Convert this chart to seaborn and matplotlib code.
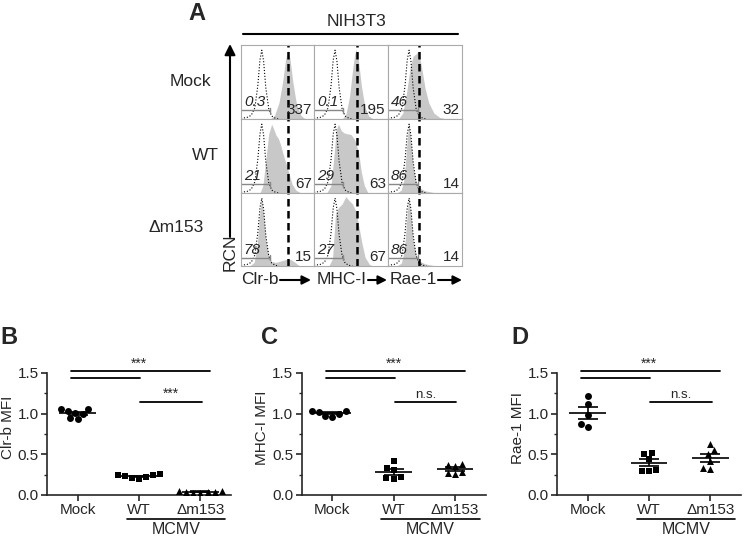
import numpy as np
import pandas as pd
import matplotlib
matplotlib.use('Agg')
import matplotlib.pyplot as plt
from matplotlib.ticker import MultipleLocator, FormatStrFormatter
import seaborn as sns

sns.set_style('ticks')
plt.rcParams['font.family'] = ['Liberation Sans', 'DejaVu Sans']

# ---------------- panel A data (curve outlines as fraction of each cell) ----------------
markers_a = ['Clr-b', 'MHC-I', 'Rae-1']
infections = ['Mock', 'WT', '\u0394m153']

iso_x = [0.0, 0.08, 0.14, 0.19, 0.23, 0.26, 0.285, 0.31, 0.34, 0.38, 0.42, 0.47, 0.52]
iso_y = [0.01, 0.02, 0.05, 0.15, 0.45, 0.8, 0.93, 0.78, 0.42, 0.14, 0.04, 0.01, 0.0]

clrb_mock_x = [0.40, 0.46, 0.52, 0.57, 0.61, 0.64, 0.67, 0.71, 0.76, 0.82, 0.88]
clrb_mock_y = [0.0, 0.05, 0.22, 0.5, 0.8, 0.93, 0.82, 0.5, 0.2, 0.05, 0.0]
clrb_wt_x = [0.26, 0.3, 0.34, 0.38, 0.42, 0.45, 0.48, 0.51, 0.54, 0.57, 0.6, 0.63, 0.66, 0.7, 0.75, 0.82]
clrb_wt_y = [0.0, 0.1, 0.45, 0.8, 0.93, 0.86, 0.78, 0.74, 0.66, 0.55, 0.45, 0.36, 0.25, 0.12, 0.04, 0.0]
clrb_d153_x = [0.12, 0.18, 0.22, 0.25, 0.28, 0.31, 0.34, 0.38, 0.42, 0.48, 0.55, 0.62, 0.68, 0.74, 0.8]
clrb_d153_y = [0.0, 0.05, 0.25, 0.65, 0.93, 0.7, 0.35, 0.14, 0.06, 0.05, 0.07, 0.09, 0.09, 0.05, 0.0]

mhc_mock_x = [0.38, 0.43, 0.48, 0.52, 0.55, 0.57, 0.60, 0.64, 0.69, 0.74, 0.80]
mhc_mock_y = [0.0, 0.06, 0.3, 0.65, 0.88, 0.94, 0.8, 0.45, 0.15, 0.04, 0.0]
mhc_wt_x = [0.17, 0.23, 0.27, 0.3, 0.33, 0.37, 0.41, 0.45, 0.5, 0.55, 0.6, 0.64, 0.68, 0.73]
mhc_wt_y = [0.0, 0.1, 0.5, 0.85, 0.93, 0.84, 0.81, 0.8, 0.79, 0.72, 0.56, 0.28, 0.1, 0.0]
mhc_d153_x = [0.2, 0.25, 0.29, 0.33, 0.38, 0.43, 0.47, 0.52, 0.57, 0.61, 0.65, 0.69, 0.75, 0.8]
mhc_d153_y = [0.0, 0.1, 0.7, 0.8, 0.85, 0.95, 0.9, 0.85, 0.74, 0.52, 0.3, 0.12, 0.02, 0.0]

rae_mock_x = [0.14, 0.2, 0.25, 0.3, 0.34, 0.38, 0.41, 0.45, 0.5, 0.55, 0.62, 0.7, 0.8]
rae_mock_y = [0.0, 0.08, 0.35, 0.7, 0.85, 0.88, 0.92, 0.72, 0.42, 0.22, 0.08, 0.02, 0.0]
rae_wt_x = [0.12, 0.18, 0.22, 0.25, 0.28, 0.31, 0.34, 0.38, 0.42, 0.5, 0.6, 0.68]
rae_wt_y = [0.0, 0.04, 0.2, 0.6, 0.95, 0.7, 0.35, 0.15, 0.07, 0.03, 0.01, 0.0]
rae_d153_x = [0.12, 0.18, 0.22, 0.25, 0.28, 0.31, 0.34, 0.38, 0.42, 0.5, 0.6, 0.68]
rae_d153_y = [0.0, 0.04, 0.2, 0.6, 0.95, 0.7, 0.35, 0.15, 0.07, 0.03, 0.01, 0.0]

clrb_pct = ['0.3', '21', '78']
clrb_mfi = ['337', '67', '15']
mhc_pct = ['0.1', '29', '27']
mhc_mfi = ['195', '63', '67']
rae_pct = ['46', '86', '86']
rae_mfi = ['32', '14', '14']

# ---------------- panels B-D data (normalised MFI) ----------------
groups = ['Mock', 'WT', '\u0394m153']
clrb_mock = [1.06, 1.05, 1.03, 1.01, 0.99, 0.93, 0.94]
clrb_wt = [0.26, 0.24, 0.23, 0.22, 0.20, 0.21, 0.25]
clrb_d153 = [0.05, 0.04, 0.04, 0.03, 0.04, 0.05, 0.03]
mhc_mock = [1.03, 1.02, 1.03, 0.97, 0.96, 1.0]
mhc_wt = [0.42, 0.33, 0.31, 0.22, 0.2, 0.21]
mhc_d153 = [0.38, 0.36, 0.37, 0.27, 0.26, 0.28]
rae_mock = [1.22, 1.12, 0.98, 0.87, 0.83]
rae_wt = [0.52, 0.5, 0.44, 0.3, 0.3, 0.31]
rae_d153 = [0.63, 0.55, 0.5, 0.42, 0.32, 0.33]

W, H = 750, 536
fig = plt.figure(figsize=(7.5, 5.36), dpi=100)


def px_axes(x0, y0, x1, y1):
    return fig.add_axes([x0 / W, 1 - y1 / H, (x1 - x0) / W, (y1 - y0) / H])


# ---------------- panel A ----------------
curves = [
    [(clrb_mock_x, clrb_mock_y), (mhc_mock_x, mhc_mock_y), (rae_mock_x, rae_mock_y)],
    [(clrb_wt_x, clrb_wt_y), (mhc_wt_x, mhc_wt_y), (rae_wt_x, rae_wt_y)],
    [(clrb_d153_x, clrb_d153_y), (mhc_d153_x, mhc_d153_y), (rae_d153_x, rae_d153_y)],
]
pcts = [clrb_pct, mhc_pct, rae_pct]
mfis = [clrb_mfi, mhc_mfi, rae_mfi]
col_px = [(241, 314), (314, 388), (388, 462)]
row_px = [(45, 119), (119, 193), (193, 266)]
dash_pos = [0.64, 0.58, 0.42]
gate_end = [0.40, 0.39, 0.41]

for r in range(3):
    for c in range(3):
        ax = px_axes(col_px[c][0], row_px[r][0], col_px[c][1], row_px[r][1])
        cx, cy = curves[r][c]
        ax.fill_between(cx, cy, 0, color='#c8c8c8', lw=0)
        sns.lineplot(x=iso_x, y=iso_y, ax=ax, color='k', lw=0.8, ls=':', sort=False)
        ax.axvline(dash_pos[c], color='k', lw=1.8, dashes=(3, 1.8))
        g = gate_end[c]
        ax.plot([0, g], [0.115, 0.115], color='#888888', lw=1)
        ax.plot([g, g], [0.08, 0.15], color='#888888', lw=1)
        ax.text(0.04, 0.13, pcts[c][r], style='italic', fontsize=11, ha='left', va='bottom')
        ax.text(0.97, 0.03, mfis[c][r], fontsize=11, ha='right', va='bottom')
        ax.set_xlim(0, 1)
        ax.set_ylim(0, 1.0)
        ax.set_xticks([])
        ax.set_yticks([])
        for s in ax.spines.values():
            s.set_color('#aaaaaa')
            s.set_linewidth(0.8)

# ---------------- panels B-D ----------------
panel_left = [47, 301.7, 557]
panel_data = [(clrb_mock, clrb_wt, clrb_d153), (mhc_mock, mhc_wt, mhc_d153), (rae_mock, rae_wt, rae_d153)]
panel_ylab = ['Clr-b MFI', 'MHC-I MFI', 'Rae-1 MFI']
panel_sig = [('***', '***'), ('***', 'n.s.'), ('***', 'n.s.')]
marks = ['o', 's', '^']

for left, data, ylab, sig in zip(panel_left, panel_data, panel_ylab, panel_sig):
    ax = px_axes(left, 495 - 1.65 * 81.5, left + 184, 495)
    df = pd.DataFrame({'grp': sum([[g] * len(v) for g, v in zip(groups, data)], []),
                       'val': sum([list(v) for v in data], [])})
    for g, m in zip(groups, marks):
        sns.swarmplot(data=df[df.grp == g], x='grp', y='val', order=groups, marker=m,
                      color='k', size=5, linewidth=0, ax=ax)
    stats = df.groupby('grp')['val'].agg(['mean', 'sem']).reindex(groups)
    xs = np.arange(3)
    ax.hlines(stats['mean'], xs - 0.3, xs + 0.3, color='k', lw=1.2)
    ax.errorbar(xs, stats['mean'], yerr=stats['sem'], fmt='none', ecolor='k',
                elinewidth=1.2, capsize=7, capthick=1.2)

    ax.set_xlim(-0.5, 2.5)
    ax.set_ylim(0, 1.65)
    sns.despine(ax=ax)
    ax.spines['left'].set_bounds(0, 1.5)
    for s in ['left', 'bottom']:
        ax.spines[s].set_linewidth(1.2)
    ax.set_yticks([0, 0.5, 1.0, 1.5])
    ax.yaxis.set_major_formatter(FormatStrFormatter('%.1f'))
    ax.yaxis.set_minor_locator(MultipleLocator(0.25))
    ax.tick_params(axis='both', which='major', labelsize=11, length=4, width=1.2, direction='out', pad=2)
    ax.tick_params(axis='y', which='minor', length=2.5, width=1.0)
    ax.set_xticks(xs)
    ax.set_xticklabels(groups)
    ax.set_xlabel('')
    ax.set_ylabel(ylab, fontsize=11, labelpad=2)

    # significance bars
    ax.plot([-0.11, 2.16], [1.52, 1.52], color='k', lw=1.3, clip_on=False)
    ax.plot([-0.11, 1.02], [1.44, 1.44], color='k', lw=1.3, clip_on=False)
    ax.plot([1.02, 2.02], [1.14, 1.14], color='k', lw=1.3, clip_on=False)
    sig_fs = [10 if s == '***' else 9.5 for s in sig]
    ax.text(1.0, 1.52, sig[0], fontsize=sig_fs[0], ha='center', va='bottom')
    ax.text(1.52, 1.15, sig[1], fontsize=sig_fs[1], ha='center', va='bottom')

    # MCMV bracket
    ax.plot([0.8, 2.4], [-0.294, -0.294], color='k', lw=1.2, clip_on=False)
    ax.text(1.6, -0.33, 'MCMV', fontsize=11.5, ha='center', va='top')

# ---------------- overlay for labels and arrows ----------------
ov = fig.add_axes([0, 0, 1, 1])
ov.set_xlim(0, W)
ov.set_ylim(H, 0)
ov.axis('off')
ov.patch.set_alpha(0)

ov.text(197, 14, 'A', fontsize=17, fontweight='bold', ha='center', va='center')
ov.text(9, 337, 'B', fontsize=17, fontweight='bold', ha='center', va='center')
ov.text(270, 337, 'C', fontsize=17, fontweight='bold', ha='center', va='center')
ov.text(520, 337, 'D', fontsize=17, fontweight='bold', ha='center', va='center')

ov.text(357, 22, 'NIH3T3', fontsize=12.5, ha='center', va='center')
ov.plot([243, 458], [34, 34], color='k', lw=1.5)

ov.annotate('', xy=(230, 44), xytext=(230, 237),
            arrowprops=dict(arrowstyle='-|>', color='k', lw=1.5, mutation_scale=16, shrinkA=0, shrinkB=0))
ov.text(230.5, 252, 'RCN', fontsize=12.5, rotation=90, ha='center', va='center')

row_lab_x = [190, 205, 176]
row_lab_y = [82, 155, 228]
for lab, x, y in zip(infections, row_lab_x, row_lab_y):
    ov.text(x, y, lab, fontsize=12.5, ha='center', va='center')

lab_x = [241, 317, 390]
arrow_span = [(280, 311), (368, 387), (438, 462)]
for lab, x, (a0, a1) in zip(markers_a, lab_x, arrow_span):
    ov.text(x, 279, lab, fontsize=12.5, ha='left', va='center')
    ov.annotate('', xy=(a1, 280), xytext=(a0, 280),
                arrowprops=dict(arrowstyle='-|>', color='k', lw=1.5, mutation_scale=13, shrinkA=0, shrinkB=0))

fig.savefig('out.png', dpi=100)
